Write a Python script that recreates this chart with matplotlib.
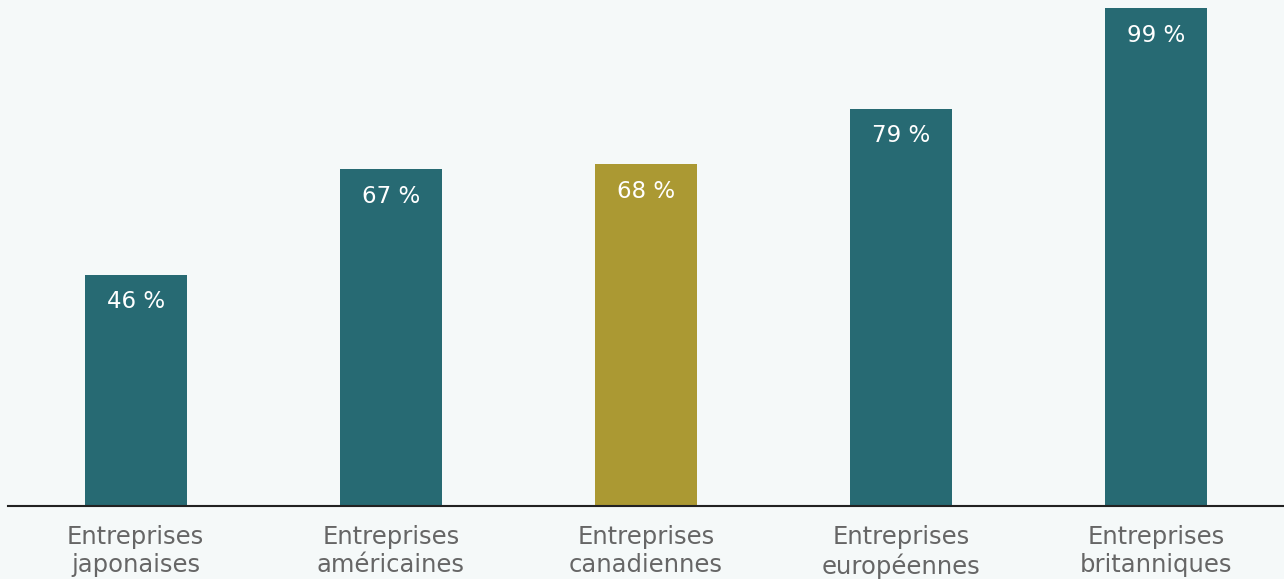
import matplotlib.pyplot as plt

# données
categories = ['Entreprises\njaponaises', 'Entreprises\naméricaines', 'Entreprises\ncanadiennes',
              'Entreprises\neuropéennes', 'Entreprises\nbritanniques']
values = [46, 67, 68, 79, 99]
labels = ['46 %', '67 %', '68 %', '79 %', '99 %']
colors = ['#276a73', '#276a73', '#ab9933', '#276a73', '#276a73']

bg = '#f5f9f9'
plt.rcParams['font.family'] = ['DejaVu Sans']

fig = plt.figure(figsize=(12.84, 5.79), dpi=100, facecolor=bg)
ax = fig.add_axes([8 / 1284, 1 - 506 / 579, 1 - 8 / 1284, 506 / 579])
ax.set_facecolor(bg)

x = range(len(values))
ax.bar(x, values, width=0.4, color=colors, zorder=2)
for i, (v, lab) in enumerate(zip(values, labels)):
    ax.text(i, v - 5.4, lab, ha='center', va='center', color='white', fontsize=16.5)

ax.set_xlim(-0.5, 4.5)
ax.set_ylim(0, 506 / 5.03)
ax.set_xticks(list(x))
ax.set_xticklabels(categories, fontsize=17.5, color='#666666', linespacing=1.2)
ax.tick_params(axis='x', length=0, pad=14)
ax.set_yticks([])
for s in ['top', 'right', 'left']:
    ax.spines[s].set_visible(False)
ax.spines['bottom'].set_color('#222222')
ax.spines['bottom'].set_linewidth(1.5)
ax.spines['bottom'].set_zorder(3)

fig.savefig('out.png', dpi=100, facecolor=bg)
